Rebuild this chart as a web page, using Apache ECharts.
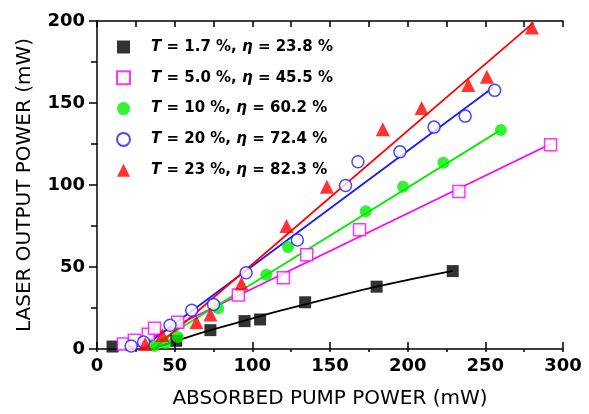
<!DOCTYPE html>
<html>
<head>
<meta charset="utf-8">
<script src="https://cdn.jsdelivr.net/npm/echarts@6/dist/echarts.min.js"></script>
<style>html,body{margin:0;padding:0;background:#fff;}#c{width:589px;height:414px;}</style>
</head>
<body>
<div id="c"></div>
<script>
// ---- data ----
const xTickLabels = [0, 50, 100, 150, 200, 250, 300];
const yTickLabels = [0, 50, 100, 150, 200];
const xTitle = 'ABSORBED PUMP POWER (mW)';
const yTitle = 'LASER OUTPUT POWER (mW)';
const legendLabels = ['T = 1.7 %, η = 23.8 %', 'T = 5.0 %, η = 45.5 %', 'T = 10 %, η = 60.2 %', 'T = 20 %, η = 72.4 %', 'T = 23 %, η = 82.3 %'];

const t17X = [10, 51, 73, 95, 105, 134, 180, 229];
const t17Y = [1.5, 5, 11.5, 17, 18, 28.5, 38, 47.5];
const t50X = [17, 24, 33, 37, 52, 91, 120, 135, 169, 233, 292];
const t50Y = [3, 5.4, 9, 12.7, 16.3, 33, 43.5, 57.4, 72.7, 96, 124.5];
const t10X = [37, 44, 52, 78, 109, 123, 173, 197, 223, 260];
const t10Y = [1.8, 3.6, 7.3, 24.8, 45.3, 62.2, 84, 99, 113.6, 133.5];
const t20X = [22, 30, 47, 61, 75, 96, 129, 160, 168, 195, 217, 237, 256];
const t20Y = [1.8, 4.2, 14.5, 23.6, 27.2, 46.5, 66.5, 99.7, 114.2, 120.2, 135.3, 142, 157.7];
const t23X = [31, 42, 64, 73, 93, 122, 148, 184, 209, 239, 251, 280];
const t23Y = [3, 8.5, 16.3, 21, 40, 75, 99, 134, 147, 161, 166, 196];

// fitted lines (end points / curve points)
const fit17X = [35, 51, 73, 95, 118, 150, 180, 229];
const fit17Y = [0, 5, 11.5, 17.3, 23.4, 31, 38, 47.6];
const fit50X = [20, 292];
const fit50Y = [0, 125];
const fit10X = [32, 259];
const fit10Y = [0, 133];
const fit20X = [28, 255];
const fit20Y = [0, 159.5];
const fit23X = [36.5, 281];
const fit23Y = [0, 199];

// ---- chart ----
const zip = (xs, ys) => xs.map((x, i) => [x, ys[i]]);
const FONT = 'DejaVu Sans';
const xMin = xTickLabels[0], xMax = xTickLabels[xTickLabels.length - 1];
const yMin = yTickLabels[0], yMax = yTickLabels[yTickLabels.length - 1];
const xStep = xTickLabels[1] - xTickLabels[0];
const yStep = yTickLabels[1] - yTickLabels[0];

const colors = ['#000000', '#ff00ff', '#00ee00', '#1a1aff', '#ff0000'];
const scatterDefs = [
  { x: t17X, y: t17Y, symbol: 'rect', size: 12, style: { color: colors[0] } },
  { x: t50X, y: t50Y, symbol: 'rect', size: 12, style: { color: '#ffffff', borderColor: colors[1], borderWidth: 1.5 } },
  { x: t10X, y: t10Y, symbol: 'circle', size: 12, style: { color: colors[2] } },
  { x: t20X, y: t20Y, symbol: 'circle', size: 12, style: { color: '#ffffff', borderColor: colors[3], borderWidth: 1.5 } },
  { x: t23X, y: t23Y, symbol: 'triangle', size: 14, style: { color: colors[4] } }
];
const fitDefs = [
  { x: fit17X, y: fit17Y, smooth: true },
  { x: fit50X, y: fit50Y },
  { x: fit10X, y: fit10Y },
  { x: fit20X, y: fit20Y },
  { x: fit23X, y: fit23Y }
];

const series = [];
fitDefs.forEach((f, i) => {
  series.push({
    type: 'line', name: 'fit' + i, data: zip(f.x, f.y), smooth: !!f.smooth,
    showSymbol: false, symbol: 'none', silent: true,
    lineStyle: { color: colors[i], width: 1.8 }, z: 2
  });
});
scatterDefs.forEach((s, i) => {
  series.push({
    type: 'scatter', name: legendLabels[i], data: zip(s.x, s.y),
    symbol: s.symbol, symbolSize: s.size, symbolKeepAspect: true,
    itemStyle: s.style, z: 3 + i
  });
});

const axisLine = { show: true, lineStyle: { color: '#000', width: 1.5 } };
const chart = echarts.init(document.getElementById('c'), null, { renderer: 'canvas' });
chart.setOption({
  animation: false,
  backgroundColor: '#fff',
  grid: { left: 97, right: 26, top: 21, bottom: 62 },
  legend: {
    data: legendLabels,
    orient: 'vertical', left: 111, top: 32,
    itemWidth: 13, itemHeight: 13, itemGap: 10.8,
    formatter: n => n.replace('T', '{i|T}').replace('η', '{i|η}'),
    textStyle: {
      fontFamily: FONT, fontWeight: 'bold', fontSize: 15, color: '#000', lineHeight: 20,
      padding: [0, 0, 0, 16],
      rich: { i: { fontFamily: FONT, fontWeight: 'bold', fontStyle: 'italic', fontSize: 15, color: '#000', lineHeight: 20 } }
    }
  },
  xAxis: [
    {
      type: 'value', min: xMin, max: xMax, interval: xStep, position: 'bottom',
      name: xTitle, nameLocation: 'middle', nameGap: 40,
      nameTextStyle: { fontFamily: FONT, fontSize: 20, color: '#000' },
      axisLine: axisLine,
      axisTick: { show: true, inside: true, length: 7, lineStyle: { color: '#000', width: 1.5 } },
      axisLabel: { margin: 8, fontFamily: FONT, fontWeight: 'bold', fontSize: 18, color: '#000' },
      splitLine: { show: false }
    },
    {
      type: 'value', min: xMin, max: xMax, interval: xStep / 2, position: 'bottom',
      axisLine: { show: false },
      axisTick: { show: true, inside: false, length: 3, lineStyle: { color: '#000', width: 1.5 } },
      axisLabel: { show: false }, splitLine: { show: false }
    },
    {
      type: 'value', min: xMin, max: xMax, interval: xStep / 2, position: 'top',
      axisLine: axisLine,
      axisTick: { show: true, inside: true, length: 6, lineStyle: { color: '#000', width: 1.5 } },
      axisLabel: { show: false }, splitLine: { show: false }
    }
  ],
  yAxis: [
    {
      type: 'value', min: yMin, max: yMax, interval: yStep, position: 'left',
      name: yTitle, nameLocation: 'middle', nameGap: 62, nameRotate: 90,
      nameTextStyle: { fontFamily: FONT, fontSize: 20, color: '#000' },
      axisLine: { show: false },
      axisTick: { show: true, inside: false, length: 8, lineStyle: { color: '#000', width: 1.5 } },
      minorTick: { show: true, splitNumber: 2, length: 2, lineStyle: { color: '#000', width: 1.5 } },
      axisLabel: { margin: 12, fontFamily: FONT, fontWeight: 'bold', fontSize: 18, color: '#000' },
      splitLine: { show: false }
    },
    {
      type: 'value', min: yMin, max: yMax, interval: yStep / 2, position: 'right',
      axisLine: axisLine,
      axisTick: { show: true, inside: true, length: 6, lineStyle: { color: '#000', width: 1.5 } },
      axisLabel: { show: false }, splitLine: { show: false }
    }
  ],
  series: series
});
</script>
</body>
</html>
